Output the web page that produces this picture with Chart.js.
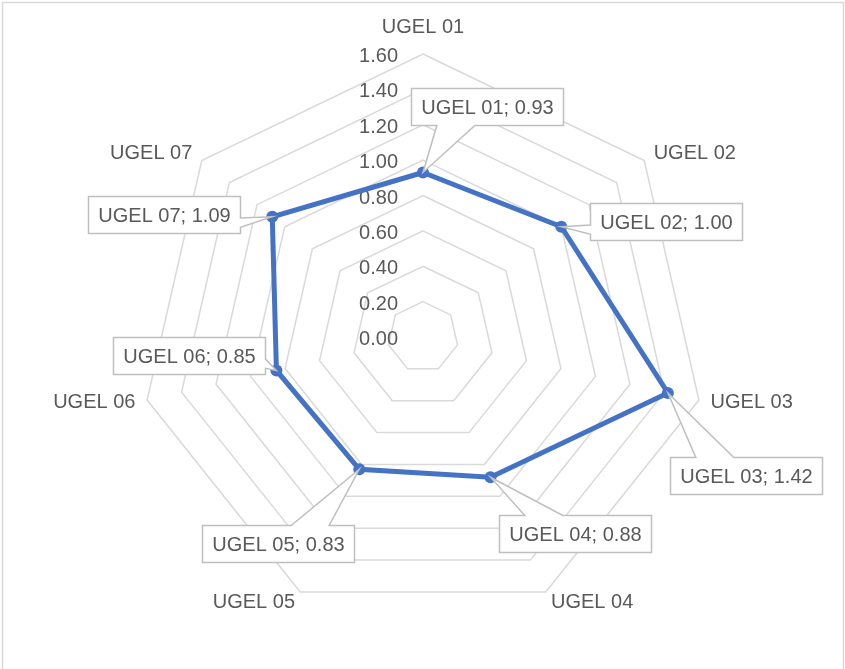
<!DOCTYPE html>
<html>
<head>
<meta charset="utf-8">
<script src="https://cdn.jsdelivr.net/npm/chart.js@4/dist/chart.umd.min.js"></script>
<style>
  html, body { margin: 0; padding: 0; background: #fff; }
  #wrap { width: 845px; height: 669px; position: relative; }
</style>
</head>
<body>
<div id="wrap"><canvas id="c" width="845" height="669"></canvas></div>
<script>
// ---- data ----
const categories = ['UGEL 01', 'UGEL 02', 'UGEL 03', 'UGEL 04', 'UGEL 05', 'UGEL 06', 'UGEL 07'];
const values = [0.93, 1.00, 1.42, 0.88, 0.83, 0.85, 1.09];
const tickValues = [0.00, 0.20, 0.40, 0.60, 0.80, 1.00, 1.20, 1.40, 1.60];
const tickLabels = ['0.00', '0.20', '0.40', '0.60', '0.80', '1.00', '1.20', '1.40', '1.60'];

// ---- styling / placement (not data) ----
const FONT = '20px "Liberation Sans", Arial, sans-serif';
const TEXT = '#595959';
const GRID = '#D9D9D9';
const BOX_BORDER = '#BFBFBF';
// offset of each callout box centre from its data point
const calloutOffsets = [[64, -66], [105, -5], [78, 83], [84, 56], [-81, 74], [-87, -15], [-108, -2]];

const labelsPlugin = {
  id: 'excelLabels',
  beforeDraw(chart) {
    const ctx = chart.ctx;
    ctx.save();
    ctx.fillStyle = '#fff';
    ctx.fillRect(0, 0, chart.width, chart.height);
    ctx.strokeStyle = GRID;
    ctx.lineWidth = 1.5;
    ctx.strokeRect(2.5, 2.5, 841, 700);
    ctx.restore();
  },
  beforeDatasetsDraw(chart) {
    const ctx = chart.ctx;
    const s = chart.scales.r;
    ctx.save();
    ctx.font = FONT;
    ctx.fillStyle = TEXT;
    // axis value labels
    ctx.textAlign = 'right';
    ctx.textBaseline = 'middle';
    tickValues.forEach((v, i) => {
      const y = s.yCenter - s.getDistanceFromCenterForValue(v) + 2.5;
      ctx.fillText(tickLabels[i], s.xCenter - 25, y);
    });
    // category labels
    categories.forEach((c, i) => {
      const ang = s.getIndexAngle(i);
      const sn = Math.sin(ang);
      const extra = Math.abs(sn) < 0.1 ? 15 : 0;
      const p = s.getPointPosition(i, s.drawingArea + 12 + extra);
      ctx.textAlign = Math.abs(sn) < 0.1 ? 'center' : (sn > 0 ? 'left' : 'right');
      ctx.textBaseline = 'middle';
      ctx.fillText(c, p.x, p.y);
    });
    ctx.restore();
  },
  afterDatasetsDraw(chart) {
    const ctx = chart.ctx;
    const meta = chart.getDatasetMeta(0);
    ctx.save();
    ctx.font = FONT;
    meta.data.forEach((pt, i) => {
      const txt = categories[i] + '; ' + values[i].toFixed(2);
      const tw = ctx.measureText(txt).width;
      const W = Math.round(tw + 20), H = 37;
      const cx = pt.x + calloutOffsets[i][0], cy = pt.y + calloutOffsets[i][1];
      const L = Math.round(cx - W / 2) + 0.5, T = Math.round(cy - H / 2) + 0.5;
      const R = L + W, B = T + H;
      const px = pt.x, py = pt.y;
      const dx = (px - (L + W / 2)) / W, dy = (py - (T + H / 2)) / H;
      const a = 2 / 12, b = 5 / 12, c = 7 / 12, d = 10 / 12;
      const inside = px >= L && px <= R && py >= T && py <= B;
      let edge = null;
      if (!inside) edge = Math.abs(dx) > Math.abs(dy) ? (dx > 0 ? 'right' : 'left') : (dy > 0 ? 'bottom' : 'top');
      const pts = [[L, T]];
      if (edge === 'top') { const f = dx < 0 ? [a, b] : [c, d]; pts.push([L + W * f[0], T], [px, py], [L + W * f[1], T]); }
      pts.push([R, T]);
      if (edge === 'right') { const f = dy < 0 ? [a, b] : [c, d]; pts.push([R, T + H * f[0]], [px, py], [R, T + H * f[1]]); }
      pts.push([R, B]);
      if (edge === 'bottom') { const f = dx < 0 ? [a, b] : [c, d]; pts.push([L + W * f[1], B], [px, py], [L + W * f[0], B]); }
      pts.push([L, B]);
      if (edge === 'left') { const f = dy < 0 ? [a, b] : [c, d]; pts.push([L, T + H * f[1]], [px, py], [L, T + H * f[0]]); }
      ctx.beginPath();
      pts.forEach((q, k) => k ? ctx.lineTo(q[0], q[1]) : ctx.moveTo(q[0], q[1]));
      ctx.closePath();
      ctx.fillStyle = '#fff';
      ctx.fill();
      ctx.strokeStyle = BOX_BORDER;
      ctx.lineWidth = 1.5;
      ctx.stroke();
      ctx.fillStyle = TEXT;
      ctx.textAlign = 'center';
      ctx.textBaseline = 'middle';
      ctx.fillText(txt, L + W / 2, T + H / 2 + 1);
    });
    ctx.restore();
  }
};

Chart.defaults.font.family = '"Liberation Sans", Arial, sans-serif';
Chart.defaults.font.size = 20;
Chart.defaults.color = TEXT;

new Chart(document.getElementById('c'), {
  type: 'radar',
  data: {
    labels: categories,
    datasets: [{
      data: values,
      borderColor: '#4472C4',
      backgroundColor: '#4472C4',
      borderWidth: 5,
      pointRadius: 6,
      pointBackgroundColor: '#4472C4',
      pointBorderColor: '#4472C4',
      pointBorderWidth: 0,
      fill: false,
      tension: 0
    }]
  },
  options: {
    responsive: false,
    animation: false,
    devicePixelRatio: 1,
    layout: { padding: { left: 140, right: 139, top: 54, bottom: 49 } },
    plugins: { legend: { display: false }, tooltip: { enabled: false } },
    scales: {
      r: {
        min: 0,
        max: 1.6,
        ticks: { display: false, stepSize: 0.2 },
        pointLabels: { display: false },
        angleLines: { display: false },
        grid: { color: GRID, lineWidth: 1.5 }
      }
    }
  },
  plugins: [labelsPlugin]
});
</script>
</body>
</html>
